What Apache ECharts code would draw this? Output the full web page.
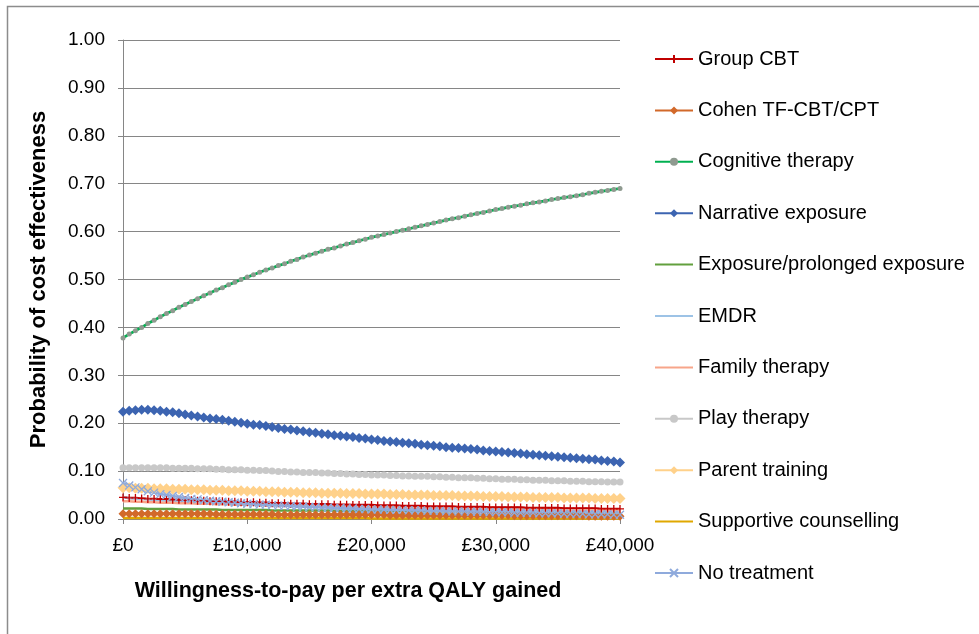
<!DOCTYPE html>
<html>
<head>
<meta charset="utf-8">
<script src="https://cdn.jsdelivr.net/npm/echarts@6/dist/echarts.min.js"></script>
<style>
  html, body { margin: 0; padding: 0; background: #fff; }
  #chart { width: 979px; height: 634px; }
</style>
</head>
<body>
<div id="chart"></div>
<script>
// Willingness-to-pay thresholds, £0 to £40,000 in £500 steps
const wtp = [];
for (let i = 0; i <= 80; i++) wtp.push(i * 500);

const xTicks = [0, 10000, 20000, 30000, 40000];
const yTicks = [0, 0.1, 0.2, 0.3, 0.4, 0.5, 0.6, 0.7, 0.8, 0.9, 1.0];

const groupCBT = [
  0.045,0.044,0.044,0.043,0.042,0.042,0.041,0.041,0.040,0.040,
  0.039,0.039,0.038,0.038,0.037,0.037,0.037,0.036,0.036,0.035,
  0.035,0.035,0.034,0.034,0.033,0.033,0.033,0.032,0.032,0.032,
  0.031,0.031,0.031,0.031,0.030,0.030,0.030,0.029,0.029,0.029,
  0.029,0.028,0.028,0.028,0.028,0.027,0.027,0.027,0.027,0.026,
  0.026,0.026,0.026,0.026,0.025,0.025,0.025,0.025,0.025,0.024,
  0.024,0.024,0.024,0.024,0.024,0.023,0.023,0.023,0.023,0.023,
  0.023,0.022,0.022,0.022,0.022,0.022,0.022,0.021,0.021,0.021,
  0.021
];
const cohenTFCBT = [
  0.011,0.011,0.011,0.011,0.011,0.011,0.011,0.011,0.011,0.011,
  0.011,0.011,0.011,0.011,0.011,0.010,0.010,0.010,0.010,0.010,
  0.010,0.010,0.010,0.010,0.010,0.009,0.009,0.009,0.009,0.009,
  0.009,0.009,0.009,0.009,0.009,0.009,0.009,0.009,0.009,0.009,
  0.009,0.009,0.009,0.008,0.008,0.008,0.008,0.008,0.008,0.008,
  0.008,0.008,0.008,0.008,0.008,0.008,0.008,0.008,0.008,0.008,
  0.008,0.008,0.008,0.007,0.007,0.007,0.007,0.007,0.007,0.007,
  0.007,0.007,0.007,0.007,0.007,0.006,0.006,0.006,0.006,0.006,
  0.006
];
const cognitive = [
  0.378,0.386,0.393,0.400,0.408,0.415,0.422,0.429,0.435,0.442,
  0.448,0.454,0.460,0.466,0.472,0.478,0.483,0.489,0.494,0.500,
  0.505,0.510,0.515,0.520,0.524,0.529,0.533,0.538,0.542,0.547,
  0.551,0.555,0.559,0.563,0.566,0.570,0.574,0.577,0.581,0.584,
  0.588,0.591,0.594,0.597,0.600,0.603,0.606,0.609,0.612,0.615,
  0.618,0.621,0.624,0.627,0.629,0.632,0.635,0.638,0.640,0.643,
  0.646,0.648,0.651,0.653,0.655,0.658,0.660,0.662,0.664,0.667,
  0.669,0.671,0.673,0.675,0.677,0.680,0.682,0.684,0.686,0.688,
  0.690
];
const narrative = [
  0.224,0.226,0.227,0.228,0.228,0.227,0.226,0.224,0.223,0.221,
  0.218,0.216,0.214,0.212,0.210,0.209,0.207,0.205,0.203,0.201,
  0.199,0.197,0.196,0.194,0.192,0.190,0.188,0.187,0.185,0.183,
  0.181,0.180,0.178,0.177,0.175,0.174,0.172,0.171,0.169,0.168,
  0.166,0.165,0.163,0.162,0.161,0.159,0.158,0.157,0.155,0.154,
  0.153,0.152,0.150,0.149,0.148,0.147,0.146,0.145,0.143,0.142,
  0.141,0.140,0.139,0.138,0.137,0.135,0.134,0.133,0.132,0.131,
  0.130,0.129,0.128,0.127,0.126,0.125,0.124,0.122,0.121,0.120,
  0.118
];
const exposure = [
  0.022,0.022,0.022,0.022,0.021,0.021,0.021,0.021,0.021,0.020,
  0.020,0.020,0.020,0.020,0.020,0.020,0.019,0.019,0.019,0.019,
  0.019,0.019,0.019,0.019,0.018,0.018,0.018,0.018,0.018,0.018,
  0.018,0.018,0.018,0.018,0.017,0.017,0.017,0.017,0.017,0.017,
  0.017,0.017,0.017,0.017,0.017,0.017,0.016,0.016,0.016,0.016,
  0.016,0.016,0.016,0.016,0.016,0.016,0.016,0.016,0.016,0.015,
  0.015,0.015,0.015,0.015,0.015,0.015,0.015,0.015,0.015,0.015,
  0.015,0.015,0.015,0.015,0.015,0.015,0.014,0.014,0.014,0.014,
  0.014
];
const emdr = [
  0.045,0.044,0.043,0.042,0.041,0.040,0.039,0.038,0.037,0.036,
  0.036,0.035,0.034,0.034,0.033,0.033,0.032,0.032,0.031,0.031,
  0.030,0.030,0.029,0.029,0.028,0.028,0.028,0.027,0.027,0.026,
  0.026,0.026,0.025,0.025,0.025,0.024,0.024,0.024,0.023,0.023,
  0.023,0.022,0.022,0.022,0.022,0.021,0.021,0.021,0.021,0.020,
  0.020,0.020,0.020,0.019,0.019,0.019,0.019,0.019,0.018,0.018,
  0.018,0.018,0.018,0.017,0.017,0.017,0.017,0.017,0.016,0.016,
  0.016,0.016,0.016,0.016,0.015,0.015,0.015,0.015,0.015,0.015,
  0.014
];
const family = [
  0.037,0.037,0.036,0.036,0.035,0.035,0.034,0.034,0.034,0.033,
  0.033,0.033,0.032,0.032,0.032,0.031,0.031,0.031,0.030,0.030,
  0.030,0.030,0.029,0.029,0.029,0.029,0.028,0.028,0.028,0.028,
  0.027,0.027,0.027,0.027,0.026,0.026,0.026,0.026,0.026,0.025,
  0.025,0.025,0.025,0.025,0.024,0.024,0.024,0.024,0.024,0.024,
  0.023,0.023,0.023,0.023,0.023,0.023,0.022,0.022,0.022,0.022,
  0.022,0.022,0.022,0.021,0.021,0.021,0.021,0.021,0.021,0.021,
  0.020,0.020,0.020,0.020,0.020,0.020,0.020,0.019,0.019,0.019,
  0.019
];
const play = [
  0.107,0.107,0.107,0.107,0.107,0.107,0.107,0.107,0.106,0.106,
  0.106,0.106,0.105,0.105,0.105,0.104,0.104,0.103,0.103,0.103,
  0.102,0.102,0.101,0.101,0.100,0.099,0.099,0.098,0.098,0.097,
  0.097,0.097,0.096,0.096,0.095,0.095,0.094,0.094,0.093,0.093,
  0.092,0.092,0.092,0.091,0.091,0.090,0.090,0.089,0.089,0.089,
  0.088,0.088,0.087,0.087,0.086,0.086,0.086,0.085,0.085,0.084,
  0.084,0.083,0.083,0.083,0.082,0.082,0.081,0.081,0.081,0.080,
  0.080,0.080,0.079,0.079,0.079,0.078,0.078,0.078,0.077,0.077,
  0.077
];
const parent = [
  0.065,0.065,0.064,0.064,0.064,0.063,0.063,0.063,0.062,0.062,
  0.062,0.061,0.061,0.061,0.060,0.060,0.060,0.059,0.059,0.059,
  0.058,0.058,0.058,0.057,0.057,0.057,0.056,0.056,0.056,0.055,
  0.055,0.055,0.054,0.054,0.054,0.054,0.053,0.053,0.053,0.052,
  0.052,0.052,0.052,0.051,0.051,0.051,0.050,0.050,0.050,0.050,
  0.049,0.049,0.049,0.049,0.048,0.048,0.048,0.048,0.047,0.047,
  0.047,0.047,0.046,0.046,0.046,0.046,0.045,0.045,0.045,0.045,
  0.045,0.044,0.044,0.044,0.044,0.044,0.043,0.043,0.043,0.043,
  0.043
];
const supportive = [
  0.002,0.002,0.002,0.002,0.002,0.002,0.002,0.002,0.002,0.002,
  0.002,0.002,0.002,0.002,0.002,0.002,0.002,0.002,0.002,0.002,
  0.002,0.002,0.002,0.002,0.002,0.002,0.002,0.002,0.002,0.002,
  0.002,0.002,0.002,0.002,0.002,0.002,0.002,0.002,0.002,0.002,
  0.001,0.001,0.001,0.001,0.001,0.001,0.001,0.001,0.001,0.001,
  0.001,0.001,0.001,0.001,0.001,0.001,0.001,0.001,0.001,0.001,
  0.001,0.001,0.001,0.001,0.001,0.001,0.001,0.001,0.001,0.001,
  0.001,0.001,0.001,0.001,0.001,0.001,0.001,0.001,0.001,0.001,
  0.001
];
const noTreatment = [
  0.075,0.070,0.066,0.062,0.058,0.055,0.052,0.050,0.048,0.046,
  0.044,0.042,0.041,0.039,0.038,0.037,0.036,0.035,0.034,0.033,
  0.032,0.031,0.030,0.030,0.029,0.028,0.028,0.027,0.026,0.026,
  0.025,0.025,0.024,0.024,0.023,0.023,0.022,0.022,0.021,0.021,
  0.020,0.020,0.020,0.019,0.019,0.019,0.018,0.018,0.018,0.017,
  0.017,0.017,0.016,0.016,0.016,0.016,0.015,0.015,0.015,0.014,
  0.014,0.014,0.014,0.013,0.013,0.013,0.013,0.012,0.012,0.012,
  0.012,0.011,0.011,0.011,0.011,0.010,0.010,0.010,0.010,0.009,
  0.009
];

const FONT = '"Liberation Sans", Arial, sans-serif';
const PLUS = 'path://M5,0L5,10M0,5L10,5';
const CROSS = 'path://M0,0L10,10M10,0L0,10';

function pairs(vals) {
  return vals.map((v, i) => [wtp[i], v]);
}

function line(name, vals, color, opts) {
  opts = opts || {};
  return {
    name: name,
    type: 'line',
    data: pairs(vals),
    symbol: opts.symbol || 'none',
    symbolSize: opts.size || 6,
    showSymbol: !!opts.symbol,
    lineStyle: { color: color, width: opts.width || 2.5 },
    itemStyle: opts.itemStyle || { color: color },
    emphasis: { disabled: true },
    animation: false
  };
}

const series = [
  line('Group CBT', groupCBT, '#C00000', {
    symbol: PLUS, size: 8,
    itemStyle: { color: 'rgba(0,0,0,0)', borderColor: '#C00000', borderWidth: 1.3 }
  }),
  line('Cohen TF-CBT/CPT', cohenTFCBT, '#D2692A', { symbol: 'diamond', size: 9 }),
  line('Cognitive therapy', cognitive, '#00B050', {
    symbol: 'circle', size: 5, width: 2.75,
    itemStyle: { color: '#8F9A90' }
  }),
  line('Narrative exposure', narrative, '#3C64B1', { symbol: 'diamond', size: 10 }),
  line('Exposure/prolonged exposure', exposure, '#62A03E'),
  line('EMDR', emdr, '#9DC3E6'),
  line('Family therapy', family, '#F7A58A'),
  line('Play therapy', play, '#C8C8C8', { symbol: 'circle', size: 7 }),
  line('Parent training', parent, '#FFD18A', { symbol: 'diamond', size: 11 }),
  line('Supportive counselling', supportive, '#E0A800'),
  line('No treatment', noTreatment, '#8FAADC', {
    symbol: CROSS, size: 8,
    itemStyle: { color: 'rgba(0,0,0,0)', borderColor: '#8FAADC', borderWidth: 1.3 }
  })
];

// Legend entries: series drawn without markers show a plain line
const legendData = series.map(s => {
  const item = { name: s.name };
  if (s.symbol === 'none') item.itemStyle = { opacity: 0 };
  return item;
});

const chart = echarts.init(document.getElementById('chart'), null, { renderer: 'canvas' });

chart.setOption({
  backgroundColor: '#ffffff',
  animation: false,
  textStyle: { fontFamily: FONT },
  grid: { left: 123, right: 359, top: 40, bottom: 115, containLabel: false },
  xAxis: {
    type: 'value',
    min: xTicks[0],
    max: xTicks[xTicks.length - 1],
    interval: 10000,
    name: 'Willingness-to-pay per extra QALY gained',
    nameLocation: 'middle',
    nameGap: 61,
    nameTextStyle: {
      fontSize: 21.5, fontWeight: 'bold', color: '#000', fontFamily: FONT,
      padding: [0, 47, 0, 0]
    },
    axisLine: { show: true, lineStyle: { color: '#868686', width: 1 } },
    axisTick: { show: true, length: 5, inside: false, lineStyle: { color: '#868686' } },
    splitLine: { show: false },
    axisLabel: {
      fontSize: 19, color: '#000', margin: 17, fontFamily: FONT,
      formatter: v => '£' + v.toLocaleString('en-GB')
    }
  },
  yAxis: {
    type: 'value',
    min: yTicks[0],
    max: yTicks[yTicks.length - 1],
    interval: 0.1,
    name: 'Probability of cost effectiveness',
    nameLocation: 'middle',
    nameRotate: 90,
    nameGap: 73,
    nameTextStyle: { fontSize: 22, fontWeight: 'bold', color: '#000', fontFamily: FONT },
    axisLine: { show: true, lineStyle: { color: '#868686', width: 1 } },
    axisTick: { show: true, length: 5, inside: false, lineStyle: { color: '#868686' } },
    splitLine: { show: true, lineStyle: { color: '#868686', width: 1 } },
    axisLabel: {
      fontSize: 19, color: '#000', margin: 18, fontFamily: FONT,
      formatter: v => v.toFixed(2)
    }
  },
  legend: {
    orient: 'vertical',
    left: 649,
    top: 44,
    itemWidth: 38,
    itemHeight: 10,
    itemGap: 31.4,
    selectedMode: false,
    textStyle: { fontSize: 20, color: '#000', fontFamily: FONT },
    data: legendData
  },
  graphic: [
    {
      type: 'polyline',
      shape: { points: [[7.5, 634], [7.5, 6.5], [979, 6.5]] },
      style: { stroke: '#8c8c8c', lineWidth: 1.5, fill: null },
      silent: true
    }
  ],
  series: series
});
</script>
</body>
</html>
